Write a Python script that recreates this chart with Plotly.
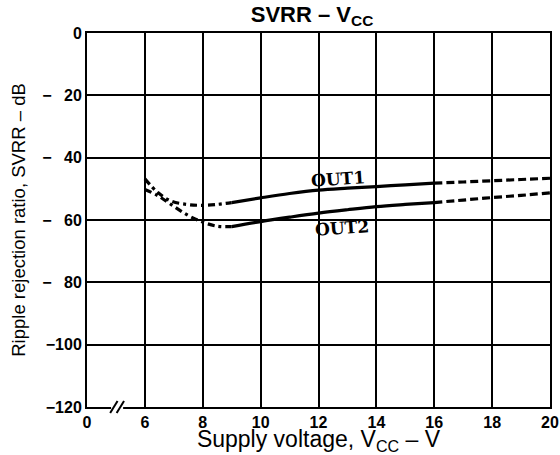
import plotly.graph_objects as go

# ---- data ----
v_left = [6, 6.45, 6.9, 7.45, 7.95, 8.5, 9]
out1_left = [-46.8, -51.2, -53.9, -55.0, -55.3, -55.0, -54.4]
out2_left = [-50.2, -52.2, -55.0, -58.3, -60.5, -62.0, -62.1]

v_mid = [9, 10, 11, 12, 13, 14, 15, 16]
out1_mid = [-54.4, -52.9, -51.5, -50.4, -49.8, -49.3, -48.7, -48.2]
out2_mid = [-62.1, -60.5, -59.1, -57.8, -56.7, -55.7, -55.0, -54.4]

v_right = [16, 17, 18, 19, 20]
out1_right = [-48.2, -47.8, -47.4, -47.0, -46.6]
out2_right = [-54.4, -53.6, -52.8, -52.1, -51.3]

x_tickvals = [4, 6, 8, 10, 12, 14, 16, 18, 20]
x_ticktext = ["0", "6", "8", "10", "12", "14", "16", "18", "20"]
y_tickvals = [-120, -100, -80, -60, -40, -20, 0]
y_ticktext = ["\u2212120", "\u2212100", "\u2212\u2002 80", "\u2212\u2002 60",
              "\u2212\u2002 40", "\u2212\u2002 20", "0"]

labels = ["OUT1", "OUT2"]
label_pos_x = [12.67, 12.81]
label_pos_y = [-46.7, -62.6]

fig = go.Figure()
lw = 3.2
for xs, ys, dash in [
    (v_left, out1_left, "7px,4px,3px,4px"),
    (v_left, out2_left, "7px,4px,3px,4px"),
    (v_mid, out1_mid, "solid"),
    (v_mid, out2_mid, "solid"),
    (v_right, out1_right, "8px,4px"),
    (v_right, out2_right, "8px,4px"),
]:
    fig.add_trace(go.Scatter(x=xs, y=ys, mode="lines",
                             line=dict(color="black", width=lw, dash=dash, shape="spline"),
                             showlegend=False, hoverinfo="skip"))

for t, lx, ly in zip(labels, label_pos_x, label_pos_y):
    fig.add_annotation(x=lx, y=ly, text="<b>" + t + "</b>", showarrow=False,
                       font=dict(family="DejaVu Serif", size=17, color="black"),
                       textangle=-4)

# axis break marks "//"
fig.add_shape(type="line", xref="paper", yref="paper",
              x0=0.052, y0=0, x1=0.078, y1=0, line=dict(color="white", width=4))
for px in [0.058, 0.072]:
    fig.add_shape(type="line", xref="paper", yref="paper",
                  x0=px - 0.008, y0=-0.016, x1=px + 0.008, y1=0.016,
                  line=dict(color="black", width=2))

tick_font = dict(family="Liberation Sans", size=16, color="black", weight="bold")
fig.update_xaxes(range=[4, 20], tickvals=x_tickvals, ticktext=x_ticktext,
                 tickfont=tick_font, showgrid=True, gridcolor="black", gridwidth=1.6,
                 showline=True, linecolor="black", linewidth=2, mirror=True,
                 zeroline=False, ticks="", automargin=False,
                 title=dict(text="Supply voltage, V<sub>CC</sub> \u2013 V",
                            font=dict(family="Liberation Sans", size=23, color="black"),
                            standoff=2))
fig.update_yaxes(range=[-120, 0], tickvals=y_tickvals, ticktext=y_ticktext,
                 tickfont=tick_font, showgrid=True, gridcolor="black", gridwidth=1.6,
                 showline=True, linecolor="black", linewidth=2, mirror=True,
                 zeroline=False, ticks="", automargin=False,
                 title=dict(text="Ripple rejection ratio, SVRR \u2013 dB",
                            font=dict(family="Liberation Sans", size=18.5, color="black"),
                            standoff=12))

fig.update_layout(
    width=560, height=455,
    margin=dict(l=87, r=10, t=33, b=48),
    paper_bgcolor="white", plot_bgcolor="white",
    title=dict(text="<b>SVRR \u2013 V<sub>CC</sub></b>", x=312 / 560, xanchor="center",
               y=1 - 14 / 455, yanchor="middle",
               font=dict(family="Liberation Sans", size=22, color="black")),
)

# remove the browser's default 8px body margin so the figure fills the window
fig.write_html("out.html", config={"displayModeBar": False},
               post_script="document.body.style.margin='0';document.body.style.overflow='hidden';")
